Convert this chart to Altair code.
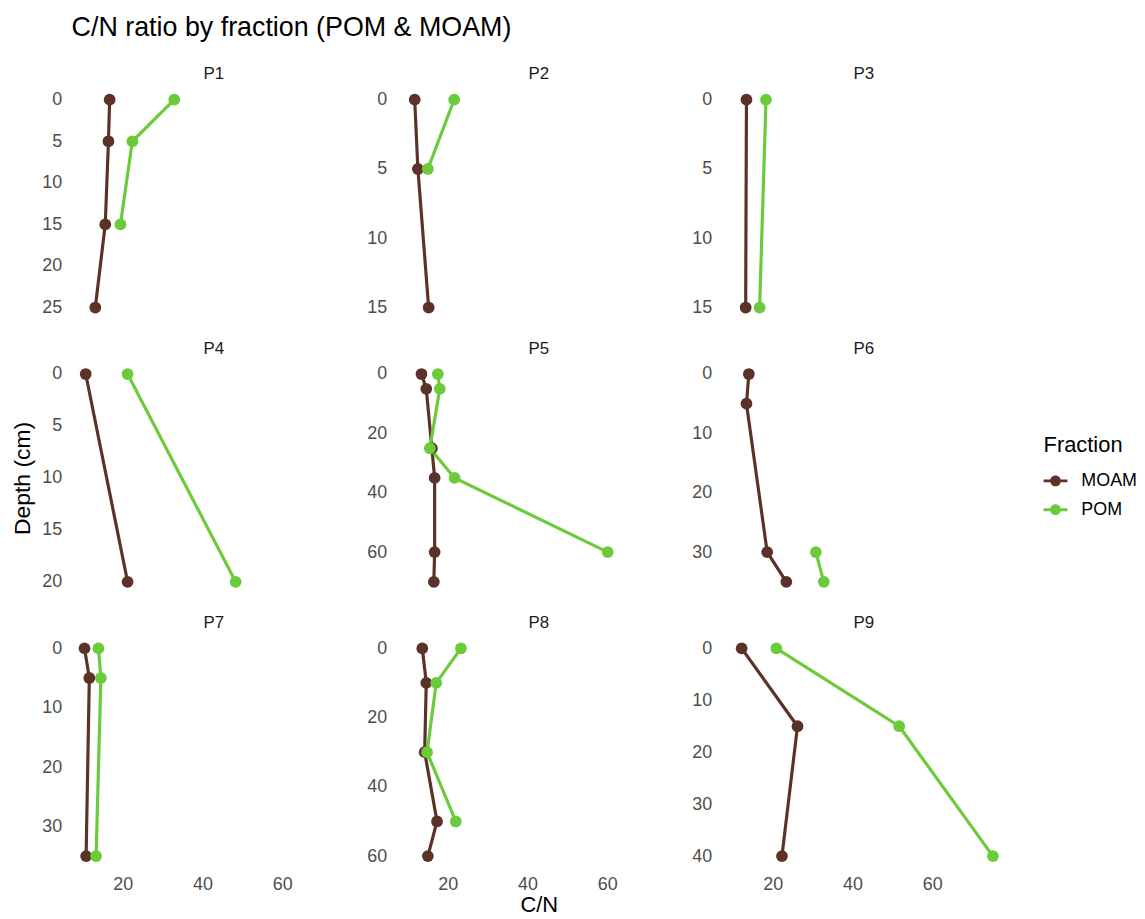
import altair as alt
import pandas as pd

panels = ["P1", "P2", "P3", "P4", "P5", "P6", "P7", "P8", "P9"]
fractions = ["MOAM", "POM"]
colors = ["#5B3228", "#6CCB3B"]

moam_depth = {
    "P1": [0, 5, 15, 25], "P2": [0, 5, 15], "P3": [0, 15],
    "P4": [0, 20], "P5": [0, 5, 25, 35, 60, 70], "P6": [0, 5, 30, 35],
    "P7": [0, 5, 35], "P8": [0, 10, 30, 50, 60], "P9": [0, 15, 40],
}
moam_cn = {
    "P1": [16.7, 16.4, 15.6, 13.1], "P2": [11.7, 12.5, 15.2], "P3": [13.4, 13.2],
    "P4": [10.7, 21.2], "P5": [13.4, 14.6, 16.0, 16.7, 16.7, 16.5], "P6": [14.0, 13.4, 18.6, 23.4],
    "P7": [10.4, 11.6, 10.8], "P8": [13.6, 14.6, 14.2, 17.3, 15.0], "P9": [12.2, 26.2, 22.3],
}
pom_depth = {
    "P1": [0, 5, 15], "P2": [0, 5], "P3": [0, 15],
    "P4": [0, 20], "P5": [0, 5, 25, 35, 60], "P6": [30, 35],
    "P7": [0, 5, 35], "P8": [0, 10, 30, 50], "P9": [0, 15, 40],
}
pom_cn = {
    "P1": [32.9, 22.4, 19.4], "P2": [21.6, 15.0], "P3": [18.3, 16.7],
    "P4": [21.2, 48.3], "P5": [17.5, 18.0, 15.5, 21.7, 60.1], "P6": [30.8, 32.8],
    "P7": [13.9, 14.5, 13.3], "P8": [23.3, 17.1, 14.8, 22.0], "P9": [20.9, 51.7, 75.2],
}
y_ticks = {
    "P1": [0, 5, 10, 15, 20, 25], "P2": [0, 5, 10, 15], "P3": [0, 5, 10, 15],
    "P4": [0, 5, 10, 15, 20], "P5": [0, 20, 40, 60], "P6": [0, 10, 20, 30],
    "P7": [0, 10, 20, 30], "P8": [0, 20, 40, 60], "P9": [0, 10, 20, 30, 40],
}
x_ticks = [20, 40, 60]

FONT = "Liberation Sans"
LEGEND_SYMBOL = ("M-1,-0.12 L1,-0.12 L1,0.12 L-1,0.12 Z "
                 "M0.45,0 A0.45,0.45 0 1,1 -0.45,0 A0.45,0.45 0 1,1 0.45,0 Z")

all_cn = [v for d in (moam_cn, pom_cn) for p in panels for v in d[p]]
xmin, xmax = min(all_cn), max(all_cn)
xpad = (xmax - xmin) * 0.05
x_domain = [xmin - xpad, xmax + xpad]


def panel_df(p):
    rows = []
    for d, c in zip(moam_depth[p], moam_cn[p]):
        rows.append({"panel": p, "fraction": "MOAM", "depth": d, "cn": c})
    for d, c in zip(pom_depth[p], pom_cn[p]):
        rows.append({"panel": p, "fraction": "POM", "depth": d, "cn": c})
    return pd.DataFrame(rows)


def make_legend():
    return alt.Legend(
        title="Fraction", orient="none", legendX=978, legendY=348,
        symbolType=LEGEND_SYMBOL, symbolSize=576, symbolStrokeWidth=0,
        symbolOpacity=1, rowPadding=8, titlePadding=12, labelOffset=14)


def make_panel(idx, p):
    row, col = divmod(idx, 3)
    df = panel_df(p)
    depths = moam_depth[p] + pom_depth[p]
    lo, hi = min(depths), max(depths)
    pad = (hi - lo) * 0.05
    if col == 0:
        ytitle = "Depth (cm)" if p == "P4" else " "
        yaxis = alt.Axis(values=y_ticks[p], title=ytitle, titlePadding=7)
    else:
        yaxis = alt.Axis(values=y_ticks[p], title=None)
    if row == 2:
        xaxis = alt.Axis(values=x_ticks, title="C/N" if p == "P8" else None,
                         labelPadding=9, titlePadding=1, titleFontSize=22)
    else:
        xaxis = None
    xenc = alt.X("cn:Q", scale=alt.Scale(domain=x_domain, nice=False, zero=False), axis=xaxis)
    yenc = alt.Y("depth:Q", scale=alt.Scale(domain=[lo - pad, hi + pad], reverse=True,
                                            nice=False, zero=False), axis=yaxis)
    cscale = alt.Scale(domain=fractions, range=colors)
    base = alt.Chart(df)
    line = base.mark_line(strokeWidth=3.2).encode(
        x=xenc, y=yenc,
        color=alt.Color("fraction:N", scale=cscale, legend=make_legend()),
        order=alt.Order("depth:Q"),
    )
    point = base.mark_point(filled=True, size=140, opacity=1).encode(
        x=xenc, y=yenc,
        color=alt.Color("fraction:N", scale=cscale, legend=make_legend()),
    )
    return alt.layer(line, point).properties(
        width=286, height=230,
        title=alt.TitleParams(p, fontSize=17, font=FONT, fontWeight="normal",
                              color="#1A1A1A", anchor="middle", frame="group", offset=6),
    )


charts = [make_panel(i, p) for i, p in enumerate(panels)]

chart = alt.concat(*charts, columns=3, spacing={"row": 22, "column": 10}, align="each").properties(
    title=alt.TitleParams("C/N ratio by fraction (POM & MOAM)", fontSize=27, font=FONT,
                          fontWeight="normal", color="black", anchor="start", dx=60, offset=23.4),
    padding={"left": 3, "top": 3, "right": 0, "bottom": 0},
).configure_view(
    stroke=None,
).configure_axis(
    labelFont=FONT, labelFontSize=18, labelColor="#4D4D4D",
    ticks=False, tickSize=0, domain=False, grid=False, labelPadding=10,
    titleFont=FONT, titleFontSize=23, titleFontWeight="normal", titleColor="black",
    titlePadding=10,
).configure_legend(
    titleFont=FONT, titleFontSize=22, titleFontWeight="normal", titleColor="black",
    labelFont=FONT, labelFontSize=18, labelColor="black",
)

chart.save("out.html", embed_options={"renderer": "svg", "actions": False})
